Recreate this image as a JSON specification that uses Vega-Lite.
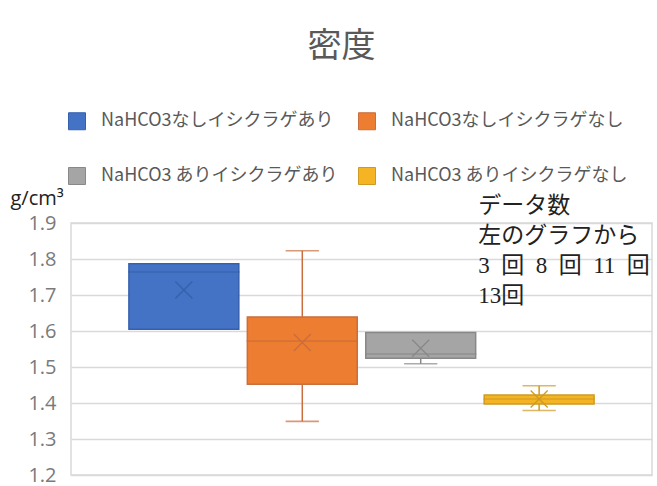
{
  "$schema": "https://vega.github.io/schema/vega-lite/v6.json",
  "autosize": {"type": "none"},
  "padding": {"left": 71, "top": 223, "right": 5, "bottom": 11},
  "width": 581,
  "height": 252,
  "background": "white",
  "title": {
    "text": "密度",
    "font": "Noto Sans CJK JP",
    "fontSize": 34,
    "fontWeight": "normal",
    "color": "#595959",
    "anchor": "middle",
    "frame": "group",
    "dx": -20,
    "offset": 48
  },
  "config": {
    "view": {"stroke": "#d9d9d9", "strokeWidth": 1.5},
    "axisY": {
      "labelOverlap": false,
      "domain": false,
      "ticks": false,
      "grid": true,
      "gridColor": "#d9d9d9",
      "gridWidth": 1.5,
      "labelFont": "Open Sans",
      "labelFontSize": 20,
      "labelColor": "#7a7a7a",
      "labelPadding": 15,
      "titleAngle": 0,
      "titleAlign": "left",
      "titleBaseline": "alphabetic",
      "titleX": -61,
      "titleY": -19,
      "titleFont": "Open Sans",
      "titleFontSize": 20,
      "titleFontWeight": "normal",
      "titleColor": "#222222"
    },
    "legend": {
      "orient": "none",
      "legendX": -3,
      "legendY": -111,
      "columns": 2,
      "columnPadding": 18,
      "rowPadding": 33,
      "symbolType": "square",
      "symbolSize": 289,
      "symbolStrokeWidth": 1,
      "symbolOpacity": 1,
      "labelOffset": 15,
      "labelFont": "Noto Sans CJK JP",
      "labelFontSize": 18,
      "labelColor": "#595959",
      "labelLimit": 400
    }
  },
  "data": {
    "values": [
      {"series": "NaHCO3なしイシクラゲあり", "lo": 1.605, "q1": 1.605, "median": 1.764, "q3": 1.787, "hi": 1.787, "mean": 1.714},
      {"series": "NaHCO3なしイシクラゲなし", "lo": 1.349, "q1": 1.452, "median": 1.572, "q3": 1.639, "hi": 1.823, "mean": 1.568},
      {"series": "NaHCO3 ありイシクラゲあり", "lo": 1.509, "q1": 1.524, "median": 1.536, "q3": 1.596, "hi": 1.596, "mean": 1.552},
      {"series": "NaHCO3 ありイシクラゲなし", "lo": 1.379, "q1": 1.397, "median": 1.411, "q3": 1.422, "hi": 1.448, "mean": 1.411}
    ]
  },
  "encoding": {
    "x": {
      "field": "series",
      "type": "nominal",
      "sort": null,
      "axis": null,
      "scale": {"paddingInner": 0.072, "paddingOuter": 0.489}
    },
    "stroke": {
      "field": "series",
      "type": "nominal",
      "sort": null,
      "title": null,
      "scale": {"domain": ["NaHCO3なしイシクラゲあり", "NaHCO3 ありイシクラゲあり", "NaHCO3なしイシクラゲなし", "NaHCO3 ありイシクラゲなし"],
                "range": ["#3461AE", "#888888", "#C96E3C", "#CF9A22"]}
    }
  },
  "layer": [
    {
      "mark": {"type": "rule", "strokeWidth": 1.5},
      "encoding": {
        "y": {
          "field": "lo",
          "type": "quantitative",
          "title": "g/cm³",
          "scale": {"domain": [1.2, 1.9], "nice": false, "zero": false},
          "axis": {
            "values": [1.2, 1.3, 1.4, 1.5, 1.6, 1.7, 1.8, 1.9],
            "tickCount": 8,
            "labelOverlap": false,
            "labelSeparation": 0,
            "format": ".1f"
          }
        },
        "y2": {"field": "hi"}
      }
    },
    {
      "transform": [{"filter": "datum.lo < datum.q1"}],
      "mark": {"type": "tick", "size": 32, "thickness": 0.3, "filled": false, "strokeWidth": 1.3},
      "encoding": {
        "y": {"field": "lo", "type": "quantitative"}
      }
    },
    {
      "transform": [{"filter": "datum.hi > datum.q3"}],
      "mark": {"type": "tick", "size": 32, "thickness": 0.3, "filled": false, "strokeWidth": 1.3},
      "encoding": {
        "y": {"field": "hi", "type": "quantitative"}
      }
    },
    {
      "mark": {"type": "bar", "strokeWidth": 1.5},
      "encoding": {
        "y": {"field": "q1", "type": "quantitative"},
        "y2": {"field": "q3"},
        "fill": {
          "field": "series",
          "type": "nominal",
          "sort": null,
          "title": null,
          "scale": {"domain": ["NaHCO3なしイシクラゲあり", "NaHCO3 ありイシクラゲあり", "NaHCO3なしイシクラゲなし", "NaHCO3 ありイシクラゲなし"],
                    "range": ["#4472C4", "#A5A5A5", "#ED7D31", "#F5B423"]}
        }
      }
    },
    {
      "mark": {"type": "tick", "size": 110, "thickness": 0.3, "filled": false, "strokeWidth": 1.3},
      "encoding": {
        "y": {"field": "median", "type": "quantitative"}
      }
    },
    {
      "mark": {"type": "point", "shape": "M-1,-1L1,1M1,-1L-1,1", "size": 289, "filled": false, "strokeWidth": 1.3, "opacity": 1},
      "encoding": {
        "y": {"field": "mean", "type": "quantitative"}
      }
    },
    {
      "data": {
        "values": [
          {"note": ["データ数", "左のグラフから", "3\u2002回\u20028\u2002回\u200211\u2002回", "13回"]}
        ]
      },
      "mark": {
        "type": "text",
        "align": "left",
        "baseline": "top",
        "lineHeight": 30,
        "dx": -6,
        "dy": -28,
        "font": "Liberation Serif, Noto Sans CJK JP",
        "fontSize": 23,
        "fontWeight": "normal",
        "color": "#222222"
      },
      "encoding": {
        "text": {"field": "note"},
        "x": {"datum": "NaHCO3 ありイシクラゲなし", "type": "nominal", "bandPosition": 0},
        "y": {"datum": 1.9, "type": "quantitative"},
        "stroke": {"value": null}
      }
    }
  ]
}
